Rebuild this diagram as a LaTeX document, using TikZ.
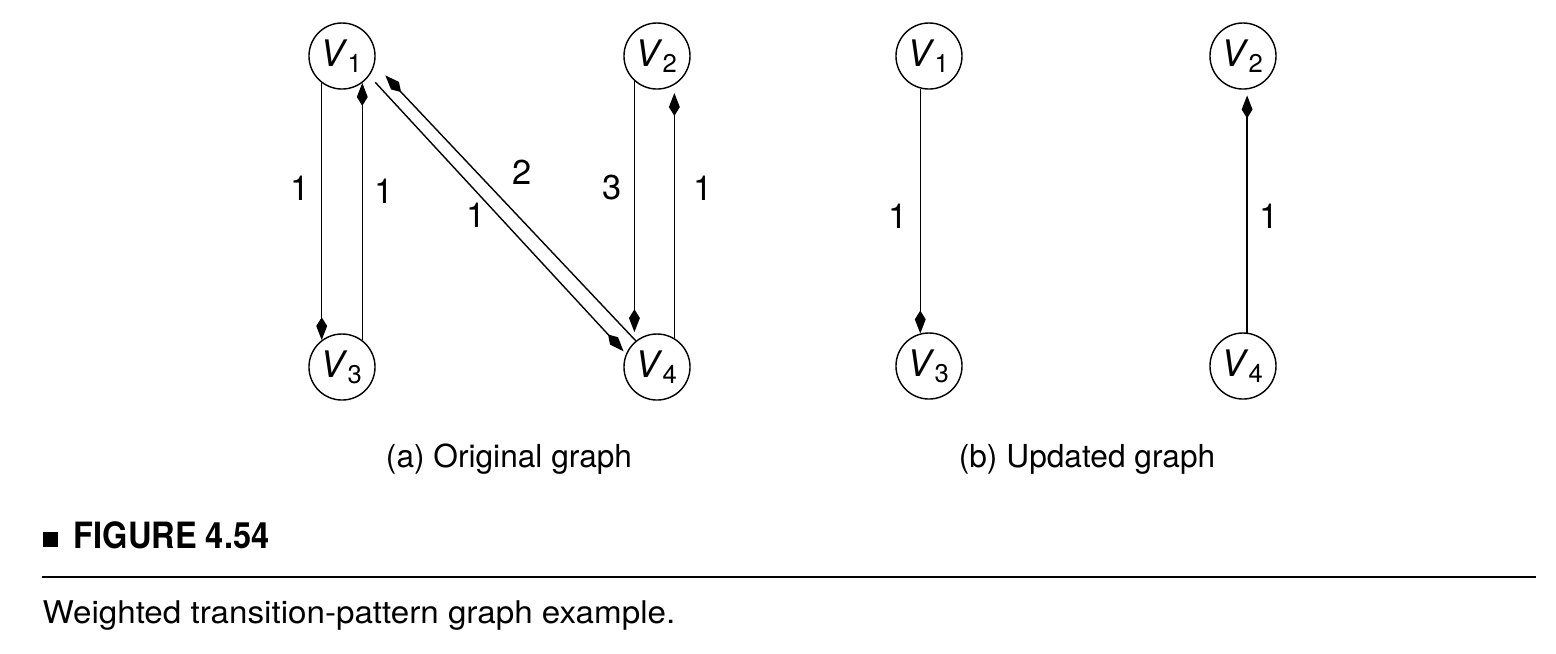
\documentclass[tikz,border=0pt]{standalone}
\usepackage{fontspec}
\setmainfont{TeX Gyre Heros}
\newfontfamily\capfont{TeX Gyre Heros}[FakeStretch=1.06]
\newfontfamily\tagfont{TeX Gyre Heros}[FakeStretch=0.9]
\usetikzlibrary{arrows.meta}

\newcommand{\vname}[1]{\textit{V}\textsubscript{#1}}

\begin{document}
\begin{tikzpicture}[x=0.01cm, y=-0.01cm, >={Kite[length=6.5pt, width=3.1pt, inset=2.5pt]},
    vertex/.style={draw, circle, minimum size=0.66cm, inner sep=0pt, line width=0.4pt,
        font=\fontsize{10.4}{11}\selectfont},
    edge/.style={->, line width=0.4pt},
    weight/.style={font=\fontsize{9.8}{10}\selectfont},
    subcap/.style={font=\fontsize{9}{10}\selectfont}]
    \useasboundingbox (0,0) rectangle (1556,653);

    % (a) original graph
    \node[vertex] (a1) at (342,56) {\vname{1}};
    \node[vertex] (a2) at (657,56) {\vname{2}};
    \node[vertex] (a3) at (342,367) {\vname{3}};
    \node[vertex] (a4) at (657,367) {\vname{4}};

    \draw[edge] (a1.233) -- node[weight, pos=0.41, left] {1} (a3.127);
    \draw[edge] (a3.53) -- node[weight, pos=0.58, right] {1} (a1.307);
    \draw[edge, shorten <=2.5pt, shorten >=1pt] (a1.-36) -- node[weight, pos=0.5, left] {1} (a4.157);
    \draw[edge, shorten >=4.4pt] (a4.129) -- node[weight, pos=0.52, above right] {2} (a1.-14);
    \draw[edge, shorten >=2.8pt] (a2.228) -- node[weight, pos=0.41, left] {3} (a4.132);
    \draw[edge, shorten >=2.3pt] (a4.59) -- node[weight, pos=0.59, right=2pt] {1} (a2.301);

    \node[subcap] (capa) at (509,459) {(a) Original graph};

    % (b) updated graph
    \node[vertex] (b1) at (929,56) {\vname{1}};
    \node[vertex] (b2) at (1243,56) {\vname{2}};
    \node[vertex] (b3) at (929,366) {\vname{3}};
    \node[vertex] (b4) at (1243,366) {\vname{4}};

    \draw[edge] (b1.255) -- node[weight, pos=0.52, left] {1} (b3.105);
    \draw[edge, shorten >=1.7pt] (b4.83) -- node[weight, pos=0.48, right] {1} (b2.277);

    \node[subcap] (capb) at (1087,459) {(b) Updated graph};

    % figure caption
    \fill (43,532) rectangle (58,547);
    \node[anchor=base west, inner sep=0pt, font=\tagfont\bfseries\fontsize{10.3}{11}\selectfont] (tag) at (73,548) {FIGURE 4.54};
    \draw[line width=0.6pt] (42,577) -- (1536,577);
    \node[anchor=base west, inner sep=0pt, font=\capfont\fontsize{8.9}{10}\selectfont] (caption) at (42,623) {Weighted transition-pattern graph example.};
\end{tikzpicture}
\end{document}
